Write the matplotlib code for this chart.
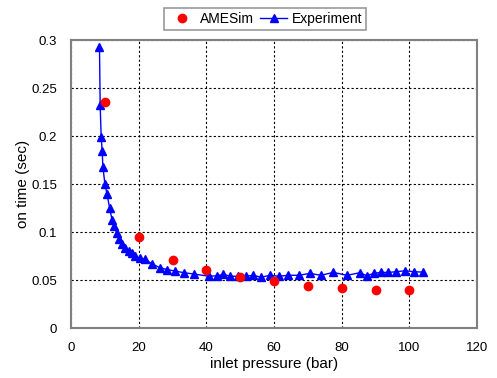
import matplotlib.pyplot as plt

plt.rcParams['font.family'] = ['Liberation Sans', 'DejaVu Sans']

# AMESim simulation
sim_p = [10, 20, 30, 40, 50, 60, 70, 80, 90, 100]
sim_t = [0.236, 0.095, 0.0708, 0.060, 0.0535, 0.049, 0.0438, 0.042, 0.0396, 0.0396]

# Experiment
exp_p = [8.4, 8.6, 8.9, 9.2, 9.4, 10.0, 10.6, 11.4, 12.1, 12.7, 13.5, 14.3, 15.0,
         16.0, 17.0, 18.0, 19.0, 20.4, 21.9, 23.9, 26.2, 28.3, 30.8, 33.5, 36.4,
         40.7, 43.2, 44.9, 47.1, 49.3, 51.6, 53.8, 56.2, 58.8, 61.4, 64.1, 67.3,
         70.6, 73.8, 77.5, 81.5, 85.4, 87.4, 89.4, 91.6, 93.8, 96.0, 98.8, 101.4,
         104.1]
exp_t = [0.293, 0.232, 0.199, 0.184, 0.168, 0.150, 0.140, 0.125, 0.113, 0.106,
         0.099, 0.093, 0.088, 0.083, 0.080, 0.078, 0.075, 0.0726, 0.0715, 0.067,
         0.063, 0.061, 0.0594, 0.0576, 0.0563, 0.054, 0.0545, 0.056, 0.054, 0.054,
         0.054, 0.055, 0.053, 0.055, 0.054, 0.055, 0.055, 0.057, 0.055, 0.058,
         0.055, 0.0577, 0.0545, 0.057, 0.058, 0.058, 0.0587, 0.0597, 0.0587,
         0.0583]

fig = plt.figure(figsize=(4.97, 3.78), dpi=100)
ax = fig.add_axes([0.143, 0.132, 0.817, 0.762])

ax.plot(sim_p, sim_t, 'o', color='red', markersize=6, label='AMESim', zorder=3)
ax.plot(exp_p, exp_t, '-^', color='blue', markersize=6, linewidth=1,
        label='Experiment', zorder=2)

ax.set_xlim(0, 120)
ax.set_ylim(0, 0.3)
ax.set_xticks(range(0, 121, 20))
ax.set_yticks([0, 0.05, 0.1, 0.15, 0.2, 0.25, 0.3])
ax.set_yticklabels(['0', '0.05', '0.1', '0.15', '0.2', '0.25', '0.3'])
ax.grid(True, color='black', linestyle=(0, (2, 2)), linewidth=0.8)
ax.tick_params(labelsize=9.5, length=0, pad=10)
for s in ax.spines.values():
    s.set_color('#808080')
    s.set_linewidth(1.5)

ax.set_xlabel('inlet pressure (bar)', fontsize=11)
ax.set_ylabel('on time (sec)', fontsize=11)
ax.xaxis.set_label_coords(0.5, -0.10)
ax.yaxis.set_label_coords(-0.10, 0.5)

leg = ax.legend(loc='lower center', bbox_to_anchor=(0.478, 1.01), ncol=2,
                fontsize=10, frameon=True, fancybox=False, handlelength=2,
                borderpad=0.3, columnspacing=0.4, handletextpad=0.3)
leg.get_frame().set_edgecolor('#808080')
leg.get_frame().set_linewidth(1.2)

fig.savefig('out.png', dpi=100)
